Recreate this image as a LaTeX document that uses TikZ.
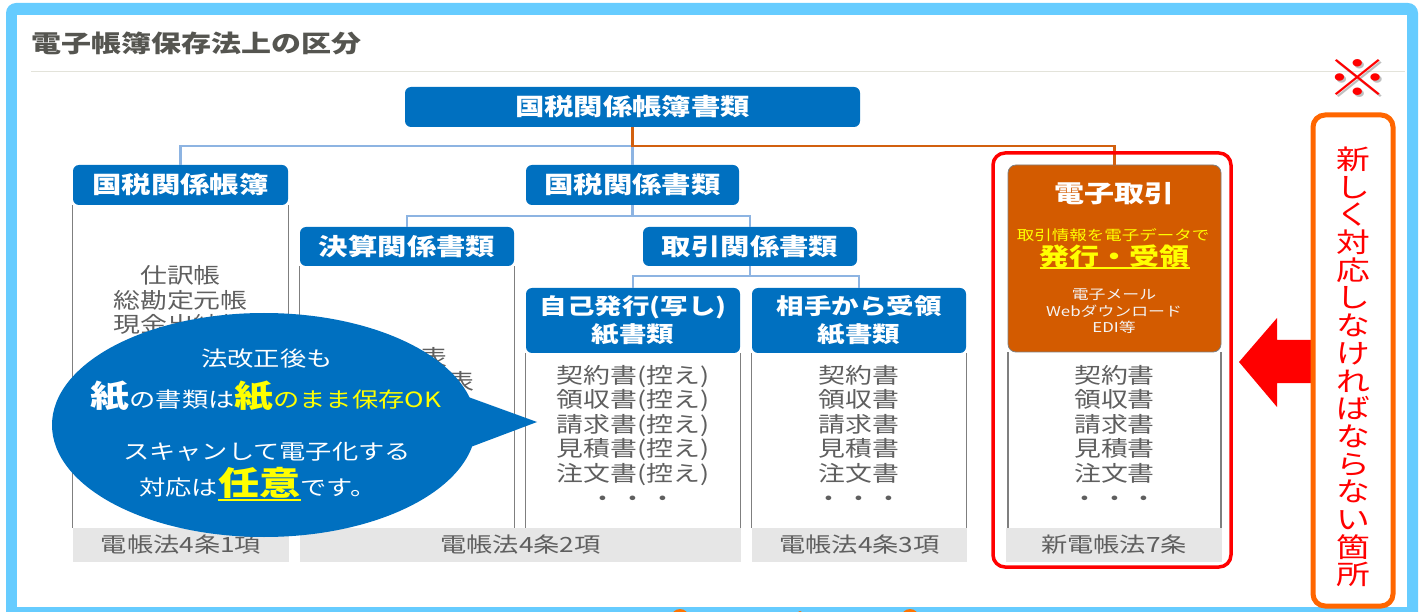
\documentclass[tikz,border=0pt]{standalone}
\usepackage{fontspec}
\setmainfont{Noto Sans CJK JP}[FakeStretch=1.25]
\usetikzlibrary{shapes.geometric}
\definecolor{frameblue}{HTML}{66CCFF}
\definecolor{hdrblue}{HTML}{0070C0}
\definecolor{connblue}{HTML}{8DB4E2}
\definecolor{connorange}{HTML}{D2600F}
\definecolor{dtorange}{HTML}{D35B00}
\definecolor{txtgray}{HTML}{5F5F5F}
\definecolor{titlegray}{HTML}{555550}
\definecolor{footgray}{HTML}{E6E6E6}
\definecolor{linegray}{HTML}{7F7F7F}
\definecolor{boxorange}{HTML}{FF6600}
\definecolor{sepgray}{HTML}{E3E3DA}
\definecolor{hiyellow}{HTML}{FFFF00}
\definecolor{softwhite}{HTML}{F4F4F4}
\newcommand\myfs[1]{\fontsize{#1}{#1}\selectfont}
\newcommand\myfsb[2]{\fontsize{#1}{#2}\selectfont}
\newcommand\myul[2]{\setbox0\hbox{#2}\rlap{\rule[-#1]{\wd0}{2pt}}\box0}
\begin{document}
\begin{tikzpicture}[x=1pt,y=-1pt,
  hdr/.style={fill=hdrblue, rounded corners=6pt, text=white, font=\bfseries\myfs{23.5}, inner sep=0pt, align=center},
  hdrtwo/.style={hdr, font=\bfseries\myfsb{22}{28}},
  conn/.style={draw=connblue, line width=2.5pt},
  oconn/.style={draw=connorange, line width=2.5pt},
  colline/.style={draw=linegray, line width=1.3pt},
  foot/.style={fill=footgray, inner sep=0pt, text=txtgray, font=\myfs{21}, minimum height=34pt},
  body/.style={text=txtgray, font=\myfsb{21.5}{24.6}, align=center, inner sep=0pt},
  bub/.style={text=white, font=\myfs{21}, inner sep=0pt},
]
\useasboundingbox (0,0) rectangle (1422,612);
% frame
\fill[frameblue, rounded corners=10pt] (6,3) rectangle (1418,630);
\fill[white] (17,15) rectangle (1407,607);
% bottom orange fragments
\fill[orange!90!red] (680,618) ellipse [x radius=9pt, y radius=9pt];
\fill[orange!90!red] (800,616) ellipse [x radius=4pt, y radius=5pt];
\fill[orange!90!red] (910,618) ellipse [x radius=9pt, y radius=9pt];
% title
\node[anchor=west, inner sep=0pt, text=titlegray, font=\bfseries\myfs{24}] (title) at (31,43) {電子帳簿保存法上の区分};
\coordinate (sepL) at (31,71.5);
\coordinate (sepR) at (1405,71.5);
\draw[sepgray, line width=1.5pt] (sepL) -- (sepR);

% footers
\node[foot, minimum width=216pt] (f1) at (181,545) {電帳法4条1項};
\node[foot, minimum width=441pt] (f2) at (520.5,545) {電帳法4条2項};
\node[foot, minimum width=215pt] (f3) at (859.5,545) {電帳法4条3項};
\node[foot, minimum width=216pt] (f4) at (1114,545) {新電帳法7条};

% header boxes
\node[hdr, minimum width=455pt, minimum height=40pt] (top) at (632.5,107) {国税関係帳簿書類};
\node[hdr, minimum width=215pt, minimum height=40pt] (kzb) at (180.5,185) {国税関係帳簿};
\node[hdr, minimum width=213pt, minimum height=40pt] (ks) at (632.5,185) {国税関係書類};
\node[hdr, minimum width=214pt, minimum height=39pt] (kessan) at (407,246.5) {決算関係書類};
\node[hdr, minimum width=214pt, minimum height=39pt] (tori) at (750,246.5) {取引関係書類};
\node[hdrtwo, minimum width=214pt, minimum height=65pt] (jiko) at (633,320.5) {自己発行(写し)\\紙書類};
\node[hdrtwo, minimum width=214pt, minimum height=65pt] (aite) at (859,320.5) {相手から受領\\紙書類};
\node[fill=dtorange, draw=linegray, line width=0.8pt, rounded corners=8pt, minimum width=213pt, minimum height=187pt, inner sep=0pt] (dt) at (1114.5,258.5) {};

% column lines
\draw[colline] (kzb.south west) -- (kzb.south west |- f1.north);
\draw[colline] (kzb.south east) -- (kzb.south east |- f1.north);
\draw[colline] (kessan.south west) -- (kessan.south west |- f2.north);
\draw[colline] (kessan.south east) -- (kessan.south east |- f2.north);
\draw[colline] (jiko.south west) -- (jiko.south west |- f2.north);
\draw[colline] (jiko.south east) -- (jiko.south east |- f2.north);
\draw[colline] (aite.south west) -- (aite.south west |- f3.north);
\draw[colline] (aite.south east) -- (aite.south east |- f3.north);
\draw[colline] ([xshift=0.5pt]dt.south west) -- ([xshift=0.5pt]dt.south west |- f4.north);
\draw[colline] ([xshift=-0.5pt]dt.south east) -- ([xshift=-0.5pt]dt.south east |- f4.north);

% connectors
\coordinate (j1) at (632.5,146);
\coordinate (j2) at (632.5,216);
\coordinate (j3) at (750,276);
\draw[conn] (j1) -| (kzb.north);
\draw[conn] (j1) -- (ks.north);
\draw[conn] (ks.south) -- (j2);
\draw[conn] (j2) -| (kessan.north);
\draw[conn] (j2) -| (tori.north);
\draw[conn] (tori.south) -- (j3);
\draw[conn] (j3) -| (jiko.north);
\draw[conn] (j3) -| (aite.north);
\draw[oconn] (top.south) -- (j1) -| (dt.north);

% body texts
\node[body] (b1) at (180.5,300) {仕訳帳\\総勘定元帳\\現金出納帳};
\node[body] (b2) at (407,369.5) {棚卸表\\貸借対照表};
\node[body] (b3) at (633,435.5) {契約書(控え)\\領収書(控え)\\請求書(控え)\\見積書(控え)\\注文書(控え)\\・\hspace{3pt}・\hspace{3pt}・};
\node[body] (b4) at (859,435.5) {契約書\\領収書\\請求書\\見積書\\注文書\\・\hspace{3pt}・\hspace{3pt}・};
\node[body] (b5) at (1114.5,435.5) {契約書\\領収書\\請求書\\見積書\\注文書\\・\hspace{3pt}・\hspace{3pt}・};

% 電子取引 contents
\node[inner sep=0pt, text=white, font=\bfseries\myfs{24}] (dttitle) at (1114.5,194) {電子取引};
\node[inner sep=0pt, text=hiyellow, font=\myfs{14}] (dtsub) at (1113,235) {取引情報を電子データで};
\node[inner sep=0pt, text=hiyellow, font=\bfseries\myfs{24}] (dtbig) at (1114.5,257) {\myul{4pt}{発行・受領}};
\node[inner sep=0pt, text=softwhite, font=\myfsb{13.5}{16.5}, align=center] (dtlist) at (1114,311.5) {電子メール\\Webダウンロード\\EDI等};

% callout bubble
\fill[hdrblue] (264,425) ellipse [x radius=212pt, y radius=112pt];
\fill[hdrblue] (460,394) -- (537,422) -- (460,451) -- cycle;
\node[bub] (c1) at (267,359) {法改正後も};
\node[bub] (c2) at (266,396) {{\bfseries\myfs{31}紙}の書類は{\color{hiyellow}{\bfseries\myfs{31}紙}のまま保存OK}};
\node[bub] (c3) at (267,452) {スキャンして電子化する};
\node[bub, anchor=base] (c4) at (258,495) {対応は{\color{hiyellow}\bfseries\myfs{33}\myul{5.5pt}{任意}}です。};

% red frame and arrow
\draw[red, line width=3.5pt, rounded corners=12pt] (993,153) rectangle (1231,567);
\fill[red] (1239,362) -- (1277,318) -- (1277,340) -- (1313,340) -- (1313,383) -- (1277,383) -- (1277,407) -- cycle;

% orange note box
\draw[boxorange, line width=5pt, rounded corners=12pt, fill=white] (1313,115) rectangle (1393,606);
\node[text=red, font=\myfsb{27}{27.7}, align=center, inner sep=0pt] (vt) at (1353,367) {新\\し\\く\\対\\応\\し\\な\\け\\れ\\ば\\な\\ら\\な\\い\\箇\\所};
\node[text=black, opacity=0.25, font=\myfs{50}, inner sep=0pt] (markshadow) at (1360,80) {※};
\node[text=red, font=\myfs{50}, inner sep=0pt] (mark) at (1358,78) {※};
\end{tikzpicture}
\end{document}
